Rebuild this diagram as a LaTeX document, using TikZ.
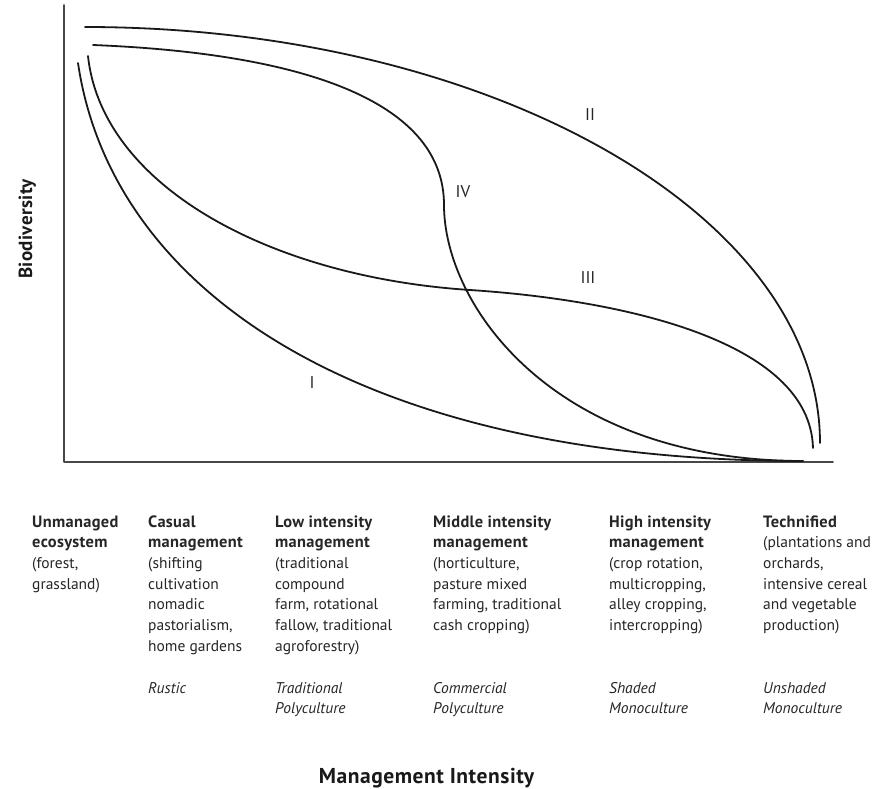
\documentclass[tikz,border=0pt]{standalone}
\usepackage{fontspec}
\setmainfont{PT Sans}
\newcommand\hd[1]{{\fontsize{16.4}{20.7}\selectfont\bfseries\addfontfeature{LetterSpace=2}#1}}
\begin{document}
\begin{tikzpicture}[x=1pt,y=-1pt,line cap=round,line join=round]
\tikzset{
  crv/.style={line width=1.8pt, draw=black!90},
  axisline/.style={line width=1.9pt, draw=black!72},
  col/.style={anchor=north west, align=left, inner sep=0pt, font=\fontsize{15.5}{20.7}\selectfont, text=black!85},
  typ/.style={col, font=\fontsize{15.5}{20.7}\selectfont\itshape},
  rn/.style={inner sep=0pt, font=\fontsize{17}{19}\selectfont, text=black!85},
  axtitle/.style={inner sep=0pt, text=black!90}
}
\useasboundingbox (0,0) rectangle (875,789);
\fill[white] (0,0) rectangle (875,789);
% axes
\coordinate (Ytop) at (64,5);
\coordinate (O) at (64,462);
\coordinate (Xend) at (833,462);
\draw[axisline] (Ytop) -- (O) -- (Xend);
% curve II
\coordinate (IIs) at (85,27);
\coordinate (IIe) at (820,443);
\draw[crv] (IIs) .. controls (489,27) and (820,214) .. (IIe);
% curve I
\coordinate (Is) at (78,63);
\coordinate (Ie) at (803,461);
\draw[crv] (Is) .. controls (112,293) and (363,461) .. (Ie);
% curve III
\coordinate (IIIs) at (88,56);
\coordinate (IIIm) at (470,290);
\coordinate (IIIe) at (813,448);
\draw[crv] (IIIs) .. controls (102,186) and (270,277) .. (IIIm)
                  .. controls (620,299.8) and (810,340) .. (IIIe);
% curve IV
\coordinate (IVs) at (93,45);
\coordinate (IVm) at (444,205);
\coordinate (IVe) at (803,461);
\draw[crv] (IVs) .. controls (313,53.8) and (444,105) .. (IVm)
                .. controls (444,305) and (553,461) .. (IVe);
% curve labels
\node[rn] (lI) at (312,383) {I};
\node[rn] (lII) at (590,115) {II};
\node[rn] (lIII) at (588,278) {III};
\node[rn] (lIV) at (463,192) {IV};
% axis titles
\node[axtitle, rotate=90, anchor=base, font=\fontsize{19}{22}\selectfont\bfseries\addfontfeature{LetterSpace=2}] (ytitle) at (32,229) {Biodiversity};
\node[axtitle, anchor=base, font=\fontsize{21.5}{24}\selectfont\bfseries\addfontfeature{LetterSpace=2.5}] (xtitle) at (426.5,783) {Management Intensity};
% columns
\node[col] (c1) at (32,512.5) {\strut\hd{Unmanaged}\\\hd{ecosystem}\\(forest,\\grassland)};
\node[col] (c2) at (148,512.5) {\strut\hd{Casual}\\\hd{management}\\(shifting\\cultivation\\nomadic\\pastorialism,\\home gardens};
\node[col] (c3) at (275,512.5) {\strut\hd{Low intensity}\\\hd{management}\\(traditional\\compound\\farm, rotational\\fallow, traditional\\agroforestry)};
\node[col] (c4) at (433,512.5) {\strut\hd{Middle intensity}\\\hd{management}\\(horticulture,\\pasture mixed\\farming, traditional\\cash cropping)};
\node[col] (c5) at (609,512.5) {\strut\hd{High intensity}\\\hd{management}\\(crop rotation,\\multicropping,\\alley cropping,\\intercropping)};
\node[col] (c6) at (763,512.5) {\strut\hd{Technified}\\(plantations and\\orchards,\\intensive cereal\\and vegetable\\production)};
% italic types
\node[typ] (t2) at (148,678.5) {\strut Rustic};
\node[typ] (t3) at (275,678.5) {\strut Traditional\\Polyculture};
\node[typ] (t4) at (433,678.5) {\strut Commercial\\Polyculture};
\node[typ] (t5) at (609,678.5) {\strut Shaded\\Monoculture};
\node[typ] (t6) at (763,678.5) {\strut Unshaded\\Monoculture};
\end{tikzpicture}
\end{document}
